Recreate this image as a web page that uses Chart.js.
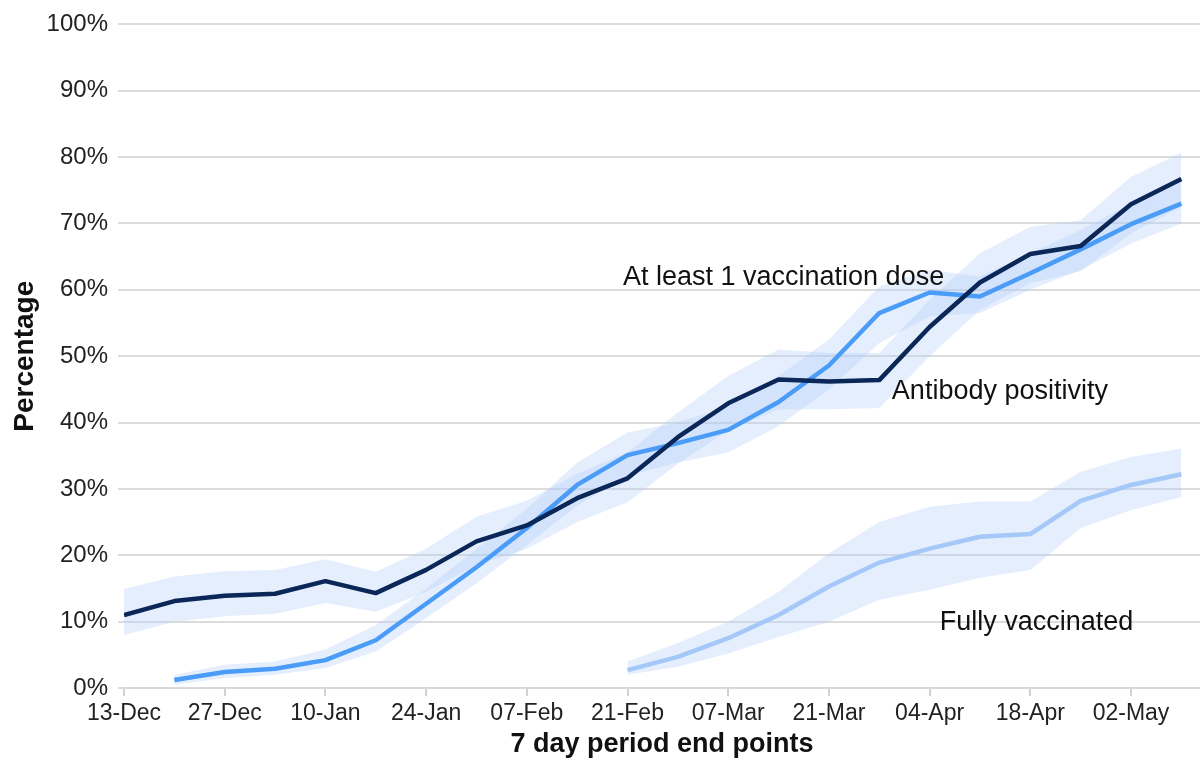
<!DOCTYPE html>
<html>
<head>
<meta charset="utf-8">
<script src="https://cdn.jsdelivr.net/npm/chart.js@4.4.1/dist/chart.umd.min.js"></script>
<style>
  html, body { margin: 0; padding: 0; background: #ffffff; }
  #wrap { width: 1200px; height: 758px; position: relative; }
</style>
</head>
<body>
<div id="wrap"><canvas id="c" width="1200" height="758"></canvas></div>
<script>
// Weekly 7-day period end points
const weeks = ['13-Dec','20-Dec','27-Dec','03-Jan','10-Jan','17-Jan','24-Jan','31-Jan','07-Feb','14-Feb','21-Feb',
               '28-Feb','07-Mar','14-Mar','21-Mar','28-Mar','04-Apr','11-Apr','18-Apr','25-Apr','02-May','09-May'];
const tickLabels = ['13-Dec','27-Dec','10-Jan','24-Jan','07-Feb','21-Feb','07-Mar','21-Mar','04-Apr','18-Apr','02-May'];
const yTickValues = [0,10,20,30,40,50,60,70,80,90,100];

// Antibody positivity (%)
const antibody      = [11.0,13.1,13.9,14.2,16.1,14.3,17.8,22.1,24.5,28.6,31.6,37.8,42.9,46.5,46.2,46.4,54.4,61.1,65.4,66.6,72.9,76.7];
const antibodyLow   = [ 8.0,10.0,10.8,11.2,12.8,11.5,14.5,18.5,21.0,25.0,28.0,33.8,38.8,42.0,42.0,42.2,50.0,57.0,61.0,62.8,68.5,72.5];
const antibodyHigh  = [14.9,16.8,17.6,17.8,19.4,17.5,21.0,25.8,28.2,32.3,35.5,41.5,47.0,51.0,50.5,50.5,58.5,65.5,69.5,70.5,77.0,80.7];

// At least 1 vaccination dose (%)
const dose          = [null, 1.2, 2.4, 2.9, 4.2, 7.2,12.7,18.2,24.1,30.6,35.1,36.9,38.9,43.1,48.6,56.5,59.6,59.0,62.5,66.1,69.9,73.0];
const doseLow       = [null, 0.5, 1.5, 2.0, 3.0, 5.5,10.5,15.8,21.5,27.5,32.0,34.0,35.5,39.5,45.0,52.0,56.0,56.5,60.0,63.0,67.0,70.0];
const doseHigh      = [null, 2.0, 3.5, 4.0, 5.8, 9.5,15.0,21.0,27.0,34.0,38.5,40.0,42.5,47.0,52.5,60.5,63.0,62.0,65.5,69.0,73.0,76.5];

// Fully vaccinated (%)
const fully         = [null,null,null,null,null,null,null,null,null,null, 2.7, 4.7, 7.5,11.0,15.3,18.9,21.0,22.8,23.2,28.2,30.6,32.2];
const fullyLow      = [null,null,null,null,null,null,null,null,null,null, 2.0, 3.2, 5.2, 7.7,10.0,13.3,14.8,16.6,17.8,24.1,26.8,28.8];
const fullyHigh     = [null,null,null,null,null,null,null,null,null,null, 4.0, 6.8,10.0,14.5,20.3,25.0,27.3,28.1,28.1,32.6,34.8,36.1];

// Series text labels anchored to data coordinates (week index, percentage)
const seriesLabels = [
  { text: 'At least 1 vaccination dose', x: 9.91, y: 61.9 },
  { text: 'Antibody positivity',         x: 15.25, y: 44.7 },
  { text: 'Fully vaccinated',            x: 16.2, y: 9.8 }
];

const pts = arr => arr.map((v, i) => ({ x: i, y: v }));

const NAVY = '#0a2758';
const MID = '#4a9cf6';
const LIGHT = '#a4c8f8';
const BAND = 'rgba(180,205,248,0.34)';
const FONT = '"Liberation Sans", Arial, sans-serif';

function bandPair(low, high) {
  return [
    { data: pts(low), borderWidth: 0, pointRadius: 0, fill: false, order: 10, borderColor: 'rgba(0,0,0,0)' },
    { data: pts(high), borderWidth: 0, pointRadius: 0, fill: '-1', backgroundColor: BAND, order: 10, borderColor: 'rgba(0,0,0,0)' }
  ];
}

const labelPlugin = {
  id: 'seriesLabels',
  afterDatasetsDraw(chart) {
    const { ctx, scales } = chart;
    ctx.save();
    ctx.font = '27px ' + FONT;
    ctx.fillStyle = '#111';
    ctx.textAlign = 'left';
    ctx.textBaseline = 'middle';
    seriesLabels.forEach(l => {
      ctx.fillText(l.text, scales.x.getPixelForValue(l.x), scales.y.getPixelForValue(l.y));
    });
    ctx.restore();
  }
};

new Chart(document.getElementById('c'), {
  type: 'line',
  data: {
    datasets: [
      ...bandPair(antibodyLow, antibodyHigh),
      ...bandPair(doseLow, doseHigh),
      ...bandPair(fullyLow, fullyHigh),
      { label: 'Antibody positivity', data: pts(antibody), borderColor: NAVY, borderWidth: 4.5, pointRadius: 0, fill: false, order: 1 },
      { label: 'At least 1 vaccination dose', data: pts(dose), borderColor: MID, borderWidth: 4.5, pointRadius: 0, fill: false, order: 1 },
      { label: 'Fully vaccinated', data: pts(fully), borderColor: LIGHT, borderWidth: 4.5, pointRadius: 0, fill: false, order: 1 }
    ]
  },
  options: {
    responsive: false,
    animation: false,
    layout: { padding: { top: 24, right: 0, left: 0, bottom: 0 } },
    plugins: { legend: { display: false }, tooltip: { enabled: false } },
    elements: { line: { tension: 0, borderJoinStyle: 'round', borderCapStyle: 'butt' } },
    scales: {
      x: {
        type: 'linear',
        min: 0,
        max: 21.37,
        afterBuildTicks: s => { s.ticks = tickLabels.map((_, i) => ({ value: i * 2 })); },
        afterFit: s => { s.height = 70; },
        ticks: {
          autoSkip: false,
          maxRotation: 0,
          padding: 4,
          color: '#222',
          font: { family: FONT, size: 23 },
          callback: v => tickLabels[Math.round(v / 2)]
        },
        grid: { drawOnChartArea: false, drawTicks: true, tickLength: 8, color: '#d0d0d0', lineWidth: 2 },
        border: { display: true, color: '#d9d9d9', width: 2 },
        title: {
          display: true,
          text: '7 day period end points',
          color: '#111',
          font: { family: FONT, size: 27, weight: 'bold' },
          padding: { top: 0, bottom: -3 }
        }
      },
      y: {
        min: 0,
        max: 100,
        afterBuildTicks: s => { s.ticks = yTickValues.map(v => ({ value: v })); },
        afterFit: s => { s.width = 124; },
        ticks: {
          padding: 10,
          color: '#222',
          font: { family: FONT, size: 24 },
          callback: v => v + '%'
        },
        grid: { color: '#dcdcdc', lineWidth: 2, drawTicks: true, tickLength: 6 },
        border: { display: false },
        title: {
          display: true,
          text: 'Percentage',
          color: '#111',
          font: { family: FONT, size: 28, weight: 'bold' },
          padding: { top: 8, bottom: 0 }
        }
      }
    }
  },
  plugins: [labelPlugin]
});
</script>
</body>
</html>
